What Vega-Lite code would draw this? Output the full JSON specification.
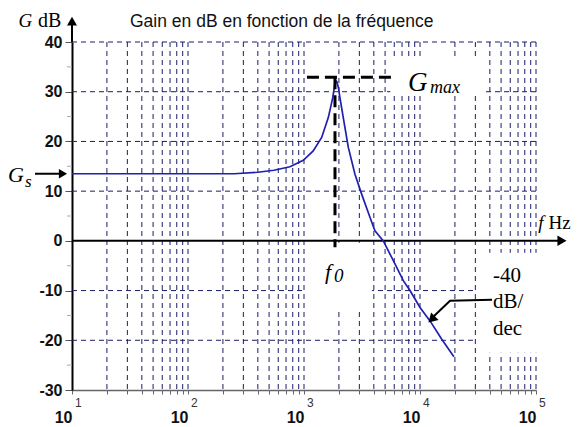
{
  "$schema": "https://vega.github.io/schema/vega-lite/v6.json",
  "width": 464,
  "height": 348,
  "autosize": {"type": "none"},
  "padding": {"left": 72, "top": 42, "right": 42, "bottom": 37},
  "background": "white",
  "title": {"text": "Gain en dB en fonction de la fréquence", "anchor": "start", "frame": "group", "dx": 58, "offset": -19, "fontSize": 17.5, "font": "Liberation Sans", "fontWeight": "normal", "color": "#111"},
  "config": {"view": {"stroke": null}},
  "datasets": {
    "curve": [
      {"f": 10, "G": 13.5}, {"f": 100, "G": 13.5}, {"f": 250, "G": 13.5}, {"f": 400, "G": 13.8},
      {"f": 550, "G": 14.2}, {"f": 757, "G": 14.9}, {"f": 986, "G": 16.2}, {"f": 1200, "G": 18.1},
      {"f": 1420, "G": 20.8}, {"f": 1620, "G": 24.8}, {"f": 1770, "G": 28.8}, {"f": 1840, "G": 31.4},
      {"f": 1880, "G": 32.2}, {"f": 1920, "G": 32.0}, {"f": 1980, "G": 30.8}, {"f": 2040, "G": 28.8},
      {"f": 2180, "G": 24.8}, {"f": 2410, "G": 18.8}, {"f": 2750, "G": 13.4}, {"f": 3140, "G": 9.4},
      {"f": 3710, "G": 4.7}, {"f": 4090, "G": 2.0}, {"f": 4830, "G": 0}, {"f": 5890, "G": -4},
      {"f": 7180, "G": -8}, {"f": 8200, "G": -10}, {"f": 10000, "G": -13.4}, {"f": 12200, "G": -16.1},
      {"f": 15400, "G": -19.8}, {"f": 19600, "G": -23.3}
    ],
    "vgrid": [
      {"f": 20}, {"f": 30}, {"f": 40}, {"f": 50}, {"f": 60}, {"f": 70}, {"f": 80}, {"f": 90},
      {"f": 100}, {"f": 200}, {"f": 300}, {"f": 400}, {"f": 500}, {"f": 600}, {"f": 700}, {"f": 800}, {"f": 900},
      {"f": 1000}, {"f": 2000}, {"f": 3000}, {"f": 4000}, {"f": 5000}, {"f": 6000}, {"f": 7000}, {"f": 8000}, {"f": 9000},
      {"f": 10000}, {"f": 20000}, {"f": 30000}, {"f": 40000}, {"f": 50000}, {"f": 60000}, {"f": 70000}, {"f": 80000}, {"f": 90000},
      {"f": 100000}
    ],
    "hgrid": [{"G": 40}, {"G": 30}, {"G": 20}, {"G": 10}, {"G": -10}, {"G": -20}],
    "minor": [{"G": 35}, {"G": 25}, {"G": 15}, {"G": 5}, {"G": -5}, {"G": -15}, {"G": -25}],
    "boxes": [
      {"f1": 5550, "f2": 34900, "G1": 29.5, "G2": 37.2},
      {"f1": 1030, "f2": 3850, "G1": -13.7, "G2": -0.4},
      {"f1": 30900, "f2": 110000, "G1": -22.5, "G2": -2.4}
    ],
    "exps": [{"f": 10, "e": "1"}, {"f": 100, "e": "2"}, {"f": 1000, "e": "3"}, {"f": 10000, "e": "4"}, {"f": 100000, "e": "5"}],
    "pointer": [{"f": 41780, "G": -11.85}, {"f": 18150, "G": -12.05}, {"f": 12950, "G": -15.3}],
    "one": [{}]
  },
  "layer": [
    {
      "data": {"name": "vgrid"},
      "mark": {"type": "rule", "color": "#1c1c66", "strokeWidth": 1, "strokeDash": [5, 4]},
      "encoding": {
        "x": {"field": "f", "type": "quantitative", "title": null,
          "scale": {"type": "log", "domain": [10, 100000], "nice": false},
          "axis": {"values": [10, 20, 30, 40, 50, 60, 70, 80, 90, 100, 200, 300, 400, 500, 600, 700, 800, 900, 1000, 2000, 3000, 4000, 5000, 6000, 7000, 8000, 9000, 10000, 20000, 30000, 40000, 50000, 60000, 70000, 80000, 90000, 100000],
            "labelExpr": "indexof([10, 100, 1000, 10000, 100000], datum.value) >= 0 ? '10' : ''",
            "title": null, "grid": false, "domainColor": "#666", "domainWidth": 1.5, "tickColor": "#666", "tickSize": 4,
            "labelFont": "Liberation Sans", "labelFontSize": 16, "labelFontWeight": "bold", "labelColor": "#111",
            "labelAlign": "right", "labelBaseline": "top", "labelPadding": 15, "labelDx": -1, "labelOverlap": false, "labelFlush": false}}
      }
    },
    {
      "data": {"name": "hgrid"},
      "mark": {"type": "rule", "color": "#1c1c66", "strokeWidth": 1, "strokeDash": [5, 4]},
      "encoding": {
        "y": {"field": "G", "type": "quantitative", "title": null,
          "scale": {"domain": [-30, 40], "nice": false, "zero": false},
          "axis": {"values": [-30, -20, -10, 0, 10, 20, 30, 40], "title": null, "grid": false,
            "labelExpr": "datum.value < 0 ? '-' + abs(datum.value) : '' + datum.value",
            "domainColor": "#000", "domainWidth": 2, "tickColor": "#555", "tickSize": 7,
            "labelFont": "Liberation Sans", "labelFontSize": 16, "labelFontWeight": "bold", "labelColor": "#111", "labelPadding": 3}}
      }
    },
    {
      "data": {"name": "boxes"},
      "mark": {"type": "rect", "fill": "white"},
      "encoding": {
        "x": {"field": "f1", "type": "quantitative", "title": null},
        "x2": {"field": "f2"},
        "y": {"field": "G1", "type": "quantitative", "title": null},
        "y2": {"field": "G2"}
      }
    },
    {
      "data": {"name": "minor"},
      "mark": {"type": "rule", "color": "#aaa", "strokeWidth": 1},
      "encoding": {
        "x": {"datum": 9.05, "type": "quantitative", "title": null},
        "x2": {"datum": 10},
        "y": {"field": "G", "type": "quantitative", "title": null}
      }
    },
    {
      "data": {"name": "one"},
      "mark": {"type": "rule", "color": "black", "strokeWidth": 2},
      "encoding": {
        "x": {"datum": 10, "type": "quantitative", "title": null},
        "x2": {"datum": 161000},
        "y": {"datum": 0, "type": "quantitative", "title": null}
      }
    },
    {
      "data": {"name": "one"},
      "mark": {"type": "rule", "color": "black", "strokeWidth": 2},
      "encoding": {
        "x": {"datum": 10, "type": "quantitative", "title": null},
        "y": {"datum": 40, "type": "quantitative", "title": null},
        "y2": {"datum": 43.5}
      }
    },
    {
      "data": {"name": "one"},
      "mark": {"type": "point", "shape": "triangle-up", "filled": true, "color": "black", "size": 100, "opacity": 1},
      "encoding": {
        "x": {"datum": 10, "type": "quantitative", "title": null},
        "y": {"datum": 44.2, "type": "quantitative", "title": null}
      }
    },
    {
      "data": {"name": "one"},
      "mark": {"type": "point", "shape": "triangle-right", "filled": true, "color": "black", "size": 110, "opacity": 1},
      "encoding": {
        "x": {"datum": 167500, "type": "quantitative", "title": null},
        "y": {"datum": 0, "type": "quantitative", "title": null}
      }
    },
    {
      "data": {"name": "one"},
      "mark": {"type": "rule", "color": "black", "strokeWidth": 2},
      "encoding": {
        "x": {"datum": 4.8, "type": "quantitative", "title": null},
        "x2": {"datum": 8.2},
        "y": {"datum": 13.5, "type": "quantitative", "title": null}
      }
    },
    {
      "data": {"name": "one"},
      "mark": {"type": "point", "shape": "triangle-right", "filled": true, "color": "black", "size": 90, "opacity": 1},
      "encoding": {
        "x": {"datum": 8.36, "type": "quantitative", "title": null},
        "y": {"datum": 13.5, "type": "quantitative", "title": null}
      }
    },
    {
      "data": {"name": "curve"},
      "mark": {"type": "line", "color": "#2020b0", "strokeWidth": 1.7},
      "encoding": {
        "x": {"field": "f", "type": "quantitative", "title": null},
        "y": {"field": "G", "type": "quantitative", "title": null}
      }
    },
    {
      "data": {"name": "one"},
      "mark": {"type": "rule", "color": "black", "strokeWidth": 3, "strokeDash": [12, 6]},
      "encoding": {
        "x": {"datum": 1060, "type": "quantitative", "title": null},
        "x2": {"datum": 6080},
        "y": {"datum": 32.9, "type": "quantitative", "title": null}
      }
    },
    {
      "data": {"name": "one"},
      "mark": {"type": "rule", "color": "black", "strokeWidth": 3, "strokeDash": [12, 6]},
      "encoding": {
        "x": {"datum": 1850, "type": "quantitative", "title": null},
        "y": {"datum": 32.9, "type": "quantitative", "title": null},
        "y2": {"datum": -1.3}
      }
    },
    {
      "data": {"name": "pointer"},
      "mark": {"type": "line", "color": "black", "strokeWidth": 2},
      "encoding": {
        "x": {"field": "f", "type": "quantitative", "title": null},
        "y": {"field": "G", "type": "quantitative", "title": null},
        "order": {"field": "f", "sort": "descending"}
      }
    },
    {
      "data": {"name": "one"},
      "mark": {"type": "point", "shape": "triangle-up", "filled": true, "color": "black", "size": 110, "angle": 225, "opacity": 1},
      "encoding": {
        "x": {"datum": 12600, "type": "quantitative", "title": null},
        "y": {"datum": -15.8, "type": "quantitative", "title": null}
      }
    },
    {
      "data": {"name": "exps"},
      "mark": {"type": "text", "align": "left", "baseline": "middle", "dx": 3, "dy": 13, "font": "Liberation Sans", "fontSize": 12, "color": "#333"},
      "encoding": {
        "x": {"field": "f", "type": "quantitative", "title": null},
        "y": {"datum": -30, "type": "quantitative", "title": null},
        "text": {"field": "e"}
      }
    },
    {
      "data": {"name": "one"},
      "mark": {"type": "text", "text": "G", "align": "center", "baseline": "alphabetic", "font": "Liberation Serif", "fontStyle": "italic", "fontSize": 19, "color": "black"},
      "encoding": {"x": {"datum": 3.97, "type": "quantitative", "title": null}, "y": {"datum": 43.0, "type": "quantitative", "title": null}}
    },
    {
      "data": {"name": "one"},
      "mark": {"type": "text", "text": "dB", "align": "left", "baseline": "alphabetic", "font": "Liberation Serif", "fontSize": 20, "color": "black"},
      "encoding": {"x": {"datum": 5.09, "type": "quantitative", "title": null}, "y": {"datum": 43.0, "type": "quantitative", "title": null}}
    },
    {
      "data": {"name": "one"},
      "mark": {"type": "text", "text": "G", "align": "center", "baseline": "alphabetic", "font": "Liberation Serif", "fontStyle": "italic", "fontSize": 22, "color": "black"},
      "encoding": {"x": {"datum": 3.29, "type": "quantitative", "title": null}, "y": {"datum": 11.85, "type": "quantitative", "title": null}}
    },
    {
      "data": {"name": "one"},
      "mark": {"type": "text", "text": "s", "align": "left", "baseline": "alphabetic", "font": "Liberation Serif", "fontStyle": "italic", "fontSize": 17, "color": "black"},
      "encoding": {"x": {"datum": 3.94, "type": "quantitative", "title": null}, "y": {"datum": 10.85, "type": "quantitative", "title": null}}
    },
    {
      "data": {"name": "one"},
      "mark": {"type": "text", "text": "f", "align": "center", "baseline": "alphabetic", "font": "Liberation Serif", "fontStyle": "italic", "fontSize": 19, "color": "black"},
      "encoding": {"x": {"datum": 110400, "type": "quantitative", "title": null}, "y": {"datum": 2.4, "type": "quantitative", "title": null}}
    },
    {
      "data": {"name": "one"},
      "mark": {"type": "text", "text": "Hz", "align": "left", "baseline": "alphabetic", "font": "Liberation Serif", "fontSize": 19, "color": "black"},
      "encoding": {"x": {"datum": 128000, "type": "quantitative", "title": null}, "y": {"datum": 2.4, "type": "quantitative", "title": null}}
    },
    {
      "data": {"name": "one"},
      "mark": {"type": "text", "text": "G", "align": "left", "baseline": "alphabetic", "font": "Liberation Serif", "fontStyle": "italic", "fontSize": 27, "color": "black"},
      "encoding": {"x": {"datum": 7890, "type": "quantitative", "title": null}, "y": {"datum": 30.15, "type": "quantitative", "title": null}}
    },
    {
      "data": {"name": "one"},
      "mark": {"type": "text", "text": "max", "align": "left", "baseline": "alphabetic", "font": "Liberation Serif", "fontStyle": "italic", "fontSize": 18, "color": "black"},
      "encoding": {"x": {"datum": 12190, "type": "quantitative", "title": null}, "y": {"datum": 29.75, "type": "quantitative", "title": null}}
    },
    {
      "data": {"name": "one"},
      "mark": {"type": "text", "text": "f", "align": "left", "baseline": "alphabetic", "font": "Liberation Serif", "fontStyle": "italic", "fontSize": 22, "color": "black"},
      "encoding": {"x": {"datum": 1517, "type": "quantitative", "title": null}, "y": {"datum": -7.67, "type": "quantitative", "title": null}}
    },
    {
      "data": {"name": "one"},
      "mark": {"type": "text", "text": "0", "align": "left", "baseline": "alphabetic", "font": "Liberation Serif", "fontStyle": "italic", "fontSize": 19, "color": "black"},
      "encoding": {"x": {"datum": 1816, "type": "quantitative", "title": null}, "y": {"datum": -8.27, "type": "quantitative", "title": null}}
    },
    {
      "data": {"name": "one"},
      "mark": {"type": "text", "text": "-40", "align": "left", "baseline": "alphabetic", "font": "Liberation Serif", "fontSize": 21, "color": "black"},
      "encoding": {"x": {"datum": 42560, "type": "quantitative", "title": null}, "y": {"datum": -8.27, "type": "quantitative", "title": null}}
    },
    {
      "data": {"name": "one"},
      "mark": {"type": "text", "text": "dB/", "align": "left", "baseline": "alphabetic", "font": "Liberation Serif", "fontSize": 21, "color": "black"},
      "encoding": {"x": {"datum": 42560, "type": "quantitative", "title": null}, "y": {"datum": -13.5, "type": "quantitative", "title": null}}
    },
    {
      "data": {"name": "one"},
      "mark": {"type": "text", "text": "dec", "align": "left", "baseline": "alphabetic", "font": "Liberation Serif", "fontSize": 21, "color": "black"},
      "encoding": {"x": {"datum": 42560, "type": "quantitative", "title": null}, "y": {"datum": -18.9, "type": "quantitative", "title": null}}
    }
  ]
}
